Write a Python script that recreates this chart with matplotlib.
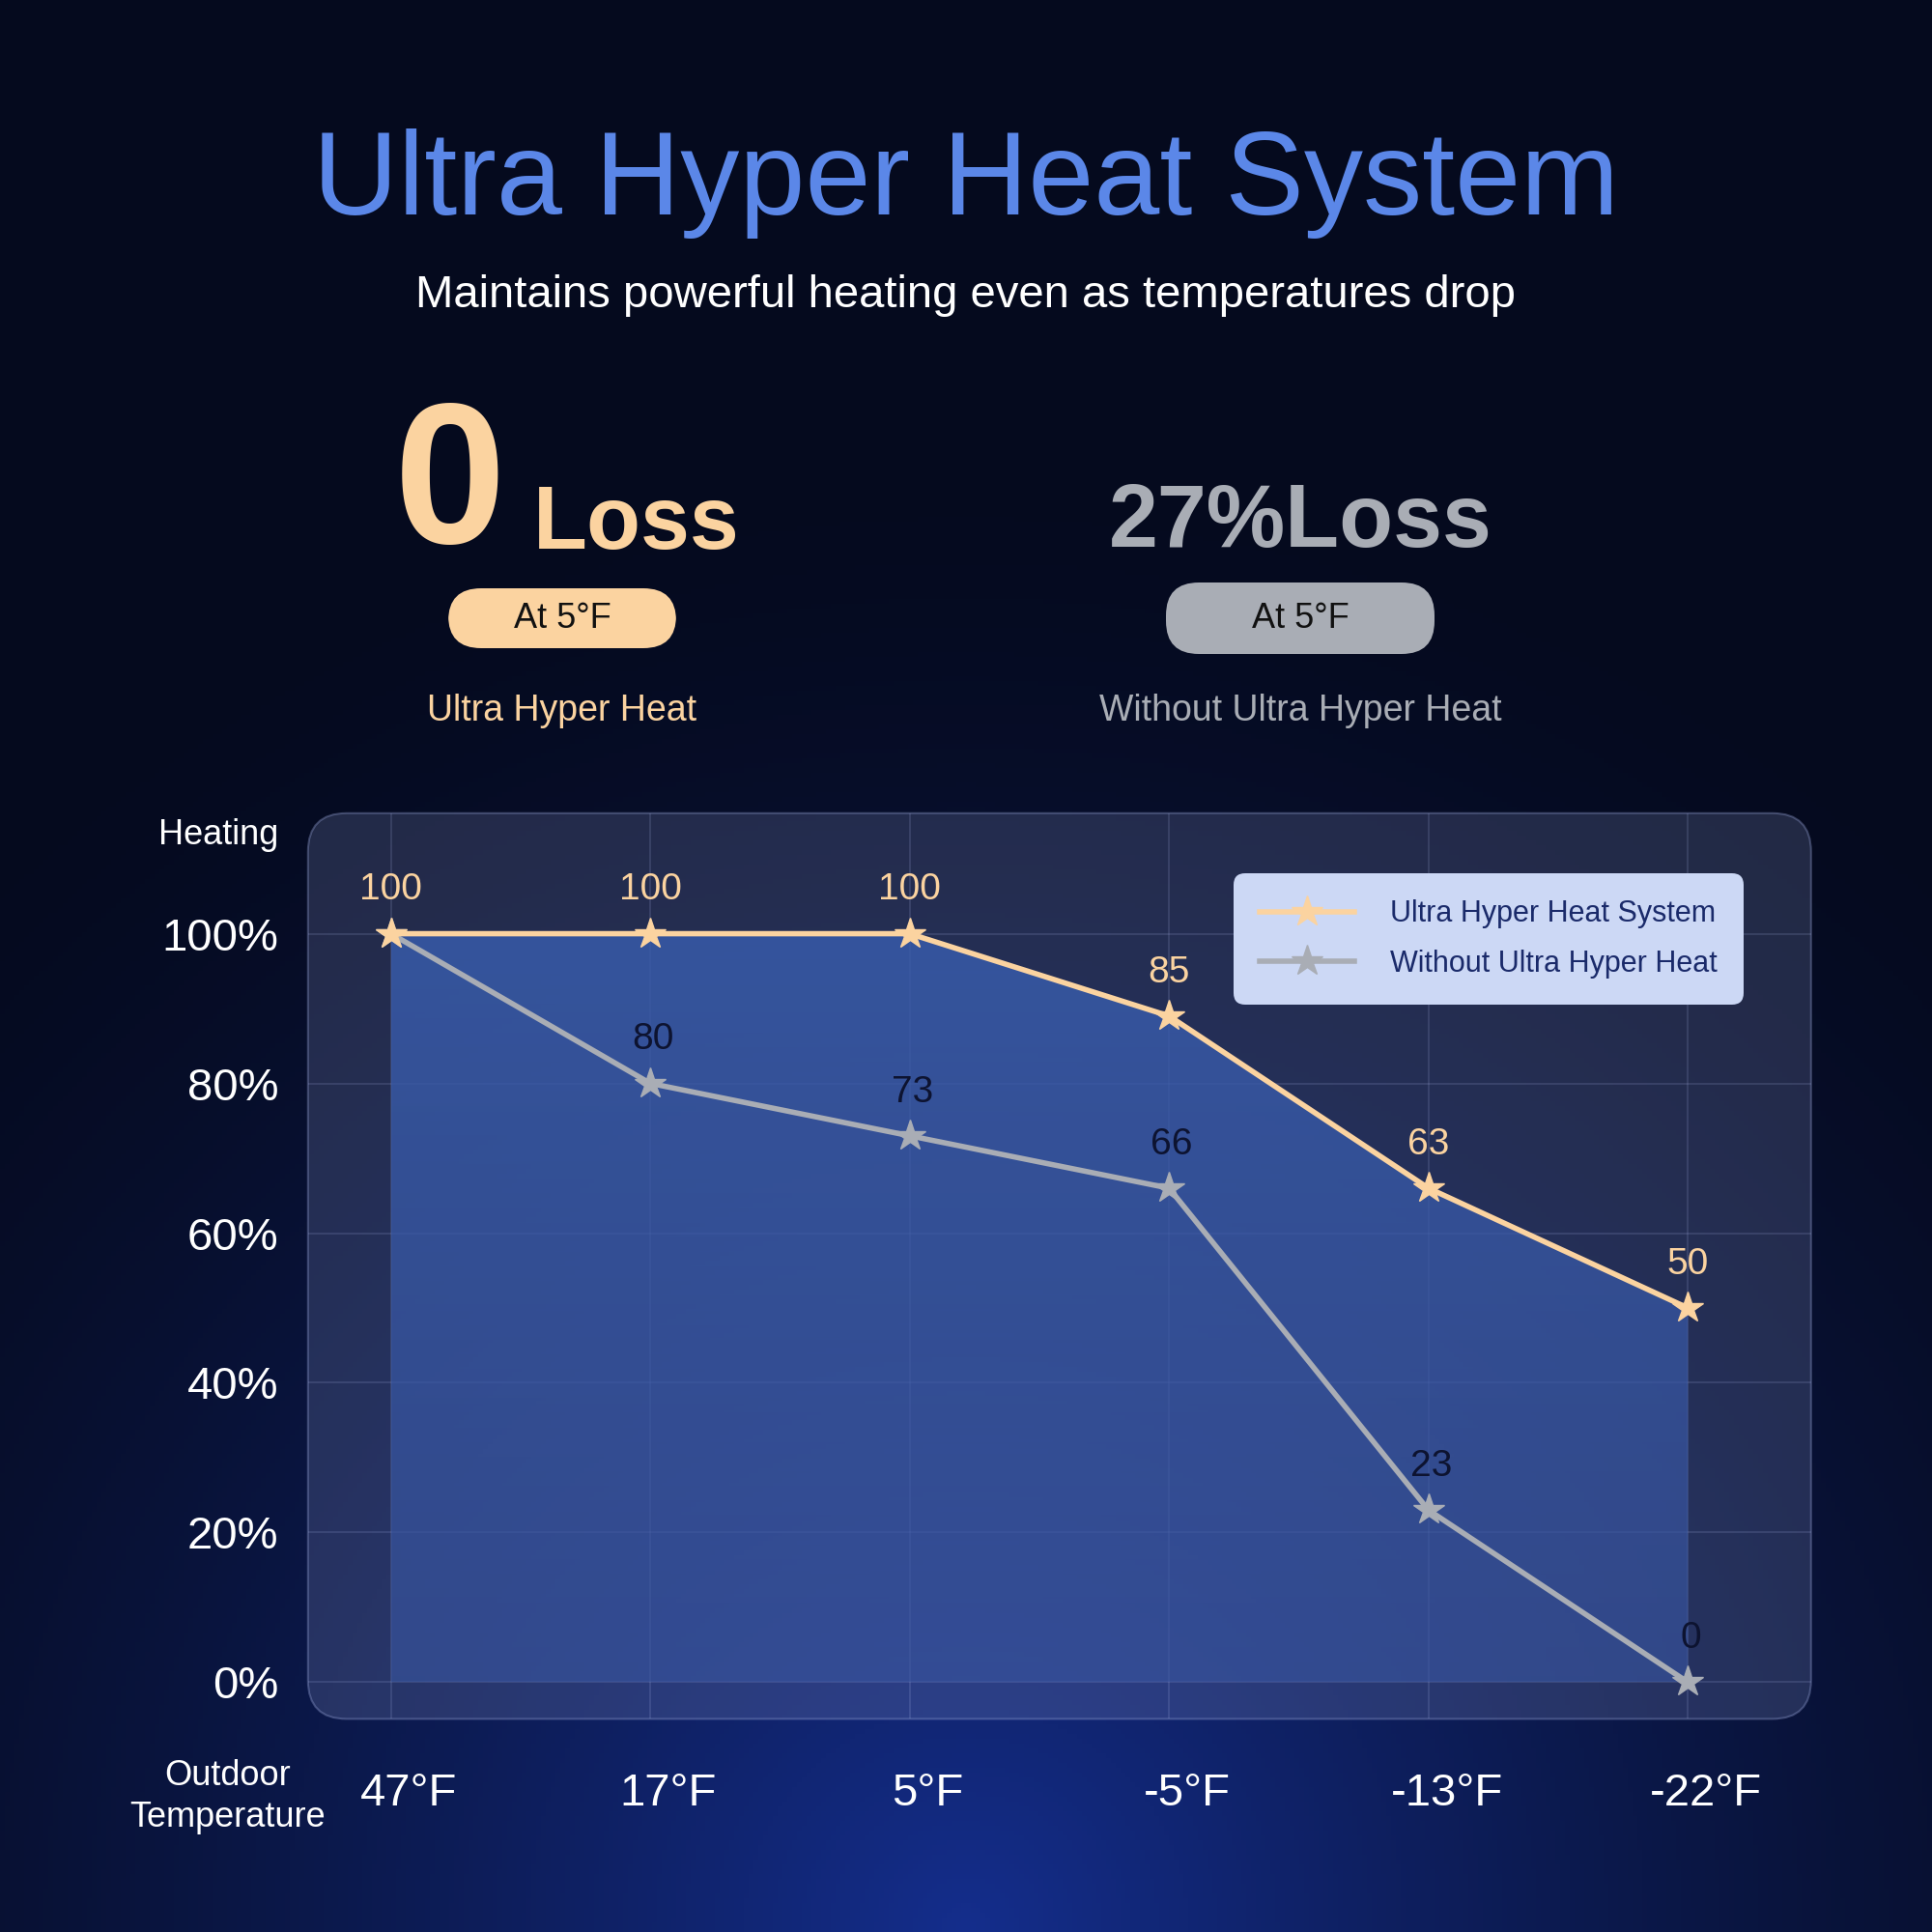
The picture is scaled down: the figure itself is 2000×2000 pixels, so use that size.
import numpy as np
import matplotlib
matplotlib.use("Agg")
import matplotlib.pyplot as plt
from matplotlib.patches import FancyBboxPatch, Polygon

plt.rcParams['font.family'] = ['Liberation Sans', 'DejaVu Sans']

temps = ["47°F", "17°F", "5°F", "-5°F", "-13°F", "-22°F"]
ultra = [100, 100, 100, 89, 66, 50]
ultra_labels = ["100", "100", "100", "85", "63", "50"]
without = [100, 80, 73, 66, 23, 0]
without_labels = ["", "80", "73", "66", "23", "0"]
yticks = [0, 20, 40, 60, 80, 100]

ORANGE = "#fbd3a0"
GRAY = "#a9adb5"

fig = plt.figure(figsize=(20, 20), dpi=100)
# background
bg = fig.add_axes([0, 0, 1, 1]); bg.set_axis_off()
yy, xx = np.mgrid[0:1:400j, 0:1:400j]
d = np.sqrt(((xx - 0.5) / 0.75) ** 2 + ((yy - 0.0) / 0.75) ** 2)
glow = np.clip(1 - d, 0, 1) ** 1.5
c0 = np.array([0.02, 0.04, 0.12]); c1 = np.array([0.08, 0.18, 0.55])
img = c0[None, None, :] * (1 - glow[..., None]) + c1[None, None, :] * glow[..., None]
bg.imshow(img, extent=[0, 1, 0, 1], origin='lower', aspect='auto')
bg.set_xlim(0, 1); bg.set_ylim(0, 1)

# header texts
fig.text(0.5, 0.905, "Ultra Hyper Heat System", color="#5b87e8", fontsize=88, ha='center', va='center')
fig.text(0.5, 0.847, "Maintains powerful heating even as temperatures drop", color="white", fontsize=34, ha='center', va='center')
fig.text(0.233, 0.746, "0", color=ORANGE, fontsize=150, fontweight='bold', ha='center', va='center')
fig.text(0.276, 0.728, "Loss", color=ORANGE, fontsize=66, fontweight='bold', ha='left', va='center')
fig.text(0.673, 0.729, "27%Loss", color=GRAY, fontsize=66, fontweight='bold', ha='center', va='center')
for cx, w, cy, h, col in [(0.291, 0.148, 0.680, 0.031, ORANGE), (0.673, 0.169, 0.680, 0.037, GRAY)]:
    bg.add_patch(FancyBboxPatch((cx - w / 2 + 0.015, cy - h / 2), w - 0.03, h,
                                boxstyle="round,pad=0,rounding_size=0.017", fc=col, ec='none', mutation_aspect=1))
    fig.text(cx, cy, "At 5°F", color="#111111", fontsize=26, ha='center', va='center')
fig.text(0.291, 0.632, "Ultra Hyper Heat", color=ORANGE, fontsize=27, ha='center', va='center')
fig.text(0.673, 0.632, "Without Ultra Hyper Heat", color=GRAY, fontsize=27, ha='center', va='center')

# panel
bg.add_patch(FancyBboxPatch((0.1594, 0.1103), 0.778, 0.4688, boxstyle="round,pad=0,rounding_size=0.02",
                            fc=(0.55, 0.6, 0.8, 0.22), ec=(0.6, 0.65, 0.85, 0.35), lw=1.5))

ax = fig.add_axes([0.1594, 0.1103, 0.778, 0.4688])
ax.patch.set_alpha(0)
x = np.arange(len(temps))
ax.set_xlim(-0.32, 5.475); ax.set_ylim(-4.9, 116.1)
for s in ax.spines.values(): s.set_visible(False)
for yv in yticks: ax.axhline(yv, color=(0.7, 0.75, 0.95, 0.18), lw=1.2, zorder=1)
for xv in x: ax.axvline(xv, color=(0.7, 0.75, 0.95, 0.18), lw=1.2, zorder=1)

# gradient fill under ultra line
grad = np.linspace(0, 1, 256)[:, None]
gcol = np.zeros((256, 1, 4))
gcol[..., 0] = 0.22; gcol[..., 1] = 0.33 + 0.03 * grad; gcol[..., 2] = 0.62 + 0.05 * grad
gcol[..., 3] = 0.65 + 0.2 * grad
im = ax.imshow(gcol, extent=[0, 5, 0, 100], origin='lower', aspect='auto', zorder=2)
poly = Polygon(list(zip(x, ultra)) + [(5, 0), (0, 0)], closed=True, transform=ax.transData)
im.set_clip_path(poly)

ax.plot(x, without, color=GRAY, lw=4, marker='*', ms=24, mfc=GRAY, mec=GRAY, zorder=4, label="Without Ultra Hyper Heat")
ax.plot(x, ultra, color=ORANGE, lw=4, marker='*', ms=24, mfc=ORANGE, mec=ORANGE, zorder=5, label="Ultra Hyper Heat System")
for xi, v, lab in zip(x, ultra, ultra_labels):
    ax.text(xi, v + 3.5, lab, color=ORANGE, fontsize=28, ha='center', va='bottom', zorder=6)
for xi, v, lab in zip(x, without, without_labels):
    if lab:
        ax.text(xi + 0.01, v + 3.5, lab, color="#0d1330", fontsize=28, ha='center', va='bottom', zorder=6)

h, l = ax.get_legend_handles_labels()
leg = ax.legend(h[::-1], l[::-1], loc='upper right', bbox_to_anchor=(0.965, 0.95), fontsize=22,
                facecolor="#ccd8f5", edgecolor='none', framealpha=1, labelcolor="#1a2a6a",
                borderpad=0.9, labelspacing=0.7, handlelength=3.2, handletextpad=1.2)
leg.get_frame().set_boxstyle("round,pad=0,rounding_size=0.4")

ax.set_yticks(yticks)
ax.set_yticklabels([f"{v}%" for v in yticks], color='white', fontsize=34)
ax.set_xticks(x + 0.07)
ax.set_xticklabels(temps, color='white', fontsize=34)
ax.tick_params(length=0)
ax.tick_params(axis='y', pad=22)
ax.tick_params(axis='x', pad=40)

fig.text(0.113, 0.568, "Heating", color='white', fontsize=26, ha='center', va='center')
fig.text(0.118, 0.070, "Outdoor\nTemperature", color='white', fontsize=26, ha='center', va='center', linespacing=1.3)

fig.savefig("out.png", dpi=100)
